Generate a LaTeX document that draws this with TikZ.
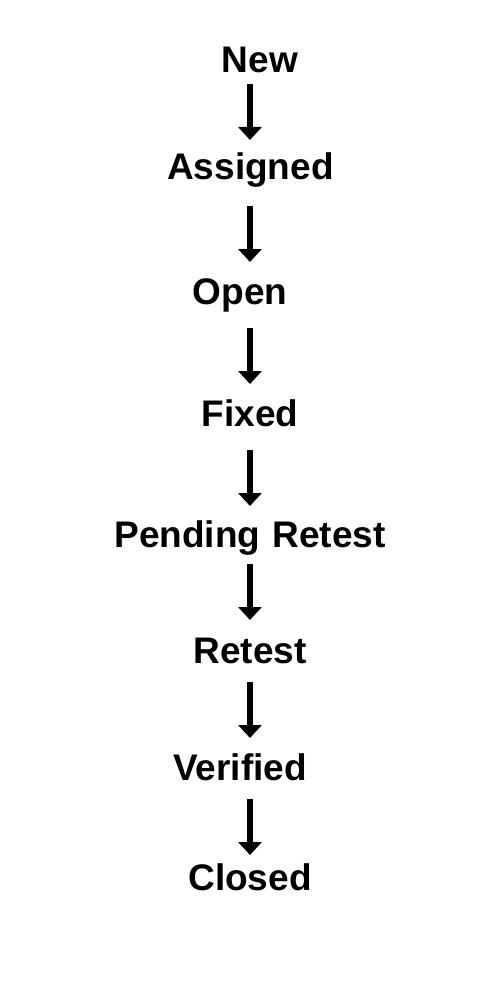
\documentclass[tikz,border=0pt]{standalone}
\usepackage{fontspec}
\setmainfont{Liberation Sans}
\usetikzlibrary{arrows.meta,calc}
\begin{document}
\begin{tikzpicture}[x=1pt,y=-1pt,
  state/.style={anchor=base,inner sep=0pt,font=\fontsize{37}{40}\selectfont\bfseries},
  arr/.style={line width=6pt,-{Triangle[width=23pt,length=13pt]}}]
\useasboundingbox[fill=white] (0,0) rectangle (500,1000);
\coordinate (axis) at (250,0);
\node[state] (new) at (260,73) {New};
\node[state] (assigned) at (250.5,180) {Assigned};
\node[state] (open) at (240,304) {Open};
\node[state] (fixed) at (250,426) {Fixed};
\node[state] (pending) at (250,547) {Pending\hspace{2pt} Retest};
\node[state] (retest) at (250,663) {Retest};
\node[state] (verified) at (240,780) {Verified};
\node[state] (closed) at (250,890) {Closed};
\draw[arr] ($(new.base -| axis)+(0,11)$) -- ($(assigned.base -| axis)+(0,-40)$);
\draw[arr] ($(assigned.base -| axis)+(0,26)$) -- ($(open.base -| axis)+(0,-42)$);
\draw[arr] ($(open.base -| axis)+(0,24)$) -- ($(fixed.base -| axis)+(0,-42)$);
\draw[arr] ($(fixed.base -| axis)+(0,24)$) -- ($(pending.base -| axis)+(0,-41)$);
\draw[arr] ($(pending.base -| axis)+(0,17)$) -- ($(retest.base -| axis)+(0,-43)$);
\draw[arr] ($(retest.base -| axis)+(0,19)$) -- ($(verified.base -| axis)+(0,-42)$);
\draw[arr] ($(verified.base -| axis)+(0,19)$) -- ($(closed.base -| axis)+(0,-35)$);
\end{tikzpicture}
\end{document}
